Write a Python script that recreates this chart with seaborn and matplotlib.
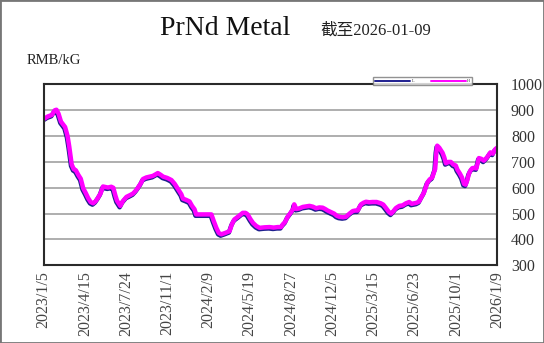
import pandas as pd
import numpy as np
import seaborn as sns
import matplotlib.pyplot as plt
import matplotlib.transforms as mtransforms
from matplotlib.patches import Rectangle

# days since 2023/1/5 and price (RMB/kG)
days = [0, 10, 20, 27, 31, 36, 42, 52, 58, 62, 68, 73, 78, 84, 90, 96, 102, 108, 114, 120,
        126, 132, 138, 144, 150, 156, 164, 169, 174, 178, 186, 192, 201, 210, 217, 224, 229,
        236, 241, 249, 257, 265, 277, 284, 290, 300, 310, 318, 326, 334, 338, 346, 354, 360,
        366, 370, 388, 407, 413, 419, 425, 431, 440, 451, 457, 463, 473, 483, 490, 495, 502,
        508, 516, 524, 536, 548, 558, 568, 576, 580, 586, 592, 600, 606, 608, 613, 620, 629,
        637, 645, 653, 661, 669, 677, 683, 689, 697, 705, 711, 717, 726, 734, 742, 750, 756,
        762, 770, 776, 782, 790, 798, 808, 818, 824, 830, 837, 843, 849, 855, 863, 871, 879,
        887, 893, 899, 905, 911, 917, 923, 928, 931, 937, 943, 947, 950, 953, 955, 960, 964,
        968, 972, 976, 982, 988, 994, 1000, 1004, 1010, 1015, 1020, 1024, 1028, 1032, 1036,
        1040, 1044, 1050, 1056, 1062, 1068, 1076, 1084, 1090, 1095, 1100]
price = [866, 876, 882, 900, 902, 887, 856, 835, 800, 760, 690, 672, 668, 650, 635, 598, 580, 560, 545, 540,
         548, 562, 578, 605, 603, 601, 604, 600, 570, 550, 530, 548, 565, 572, 578, 590, 601,
         618, 634, 640, 643, 646, 657, 650, 643, 638, 630, 615, 595, 575, 558, 553, 547, 530,
         517, 497, 497, 497, 470, 445, 425, 420, 425, 432, 460, 478, 490, 503, 503, 497, 478,
         464, 452, 445, 447, 448, 446, 448, 448, 458, 468, 488, 505, 520, 536, 518, 520, 526,
         528, 530, 527, 521, 524, 523, 518, 512, 506, 500, 492, 488, 486, 488, 500, 510, 512,
         512, 536, 542, 546, 544, 545, 545, 540, 535, 523, 508, 500, 510, 522, 530, 532, 540,
         545, 538, 540, 542, 547, 565, 582, 605, 620, 633, 640, 660, 673, 740, 763, 755, 745,
         735, 718, 695, 700, 700, 690, 686, 670, 655, 640, 615, 612, 630, 655, 668,
         676, 677, 675, 715, 712, 705, 718, 737, 732, 748, 755]

tick_labels = ['2023/1/5', '2023/4/15', '2023/7/24', '2023/11/1', '2024/2/9', '2024/5/19',
               '2024/8/27', '2024/12/5', '2025/3/15', '2025/6/23', '2025/10/1', '2026/1/9']
y_ticks = [300, 400, 500, 600, 700, 800, 900, 1000]

start = pd.Timestamp('2023-01-05')
df = pd.DataFrame({'date': start + pd.to_timedelta(days, unit='D'), 'price': price})
tick_dates = pd.to_datetime(tick_labels, format='%Y/%m/%d')

sns.set_style('white')
plt.rcParams['font.family'] = ['Liberation Serif', 'Noto Sans CJK SC']

fig = plt.figure(figsize=(5.44, 3.43), dpi=100)
ax = fig.add_axes([0.0803, 0.2265, 0.8333, 0.5274])

shadow = mtransforms.offset_copy(ax.transData, fig=fig, x=-0.7, y=-1.4, units='dots')
sns.lineplot(data=df, x='date', y='price', ax=ax, color='#1f1f8f', lw=3.2,
             transform=shadow, label='L', legend=False)
sns.lineplot(data=df, x='date', y='price', ax=ax, color='#ff00ff', lw=3.2,
             label='H', legend=False)

ax.set_xlim(tick_dates[0], tick_dates[-1])
ax.set_ylim(300, 1000)
ax.set_xticks(tick_dates)
ax.set_xticklabels(tick_labels, rotation=90, fontsize=11.5, color='#444444')
ax.set_yticks(y_ticks)
ax.set_yticklabels([str(v) for v in y_ticks], fontsize=11.5, color='#333333')
ax.yaxis.tick_right()
ax.tick_params(axis='x', direction='in', length=4, width=1, color='#333333', pad=4)
ax.tick_params(axis='y', length=0, pad=10)
ax.grid(axis='y', color='#a8a8a8', lw=1.3)
ax.grid(axis='x', visible=False)
ax.set_xlabel('')
ax.set_ylabel('')
for s in ax.spines.values():
    s.set_visible(True)
    s.set_color('#2a2a2a')
    s.set_linewidth(1.5)

handles, labels = ax.get_legend_handles_labels()
leg = fig.legend(handles, labels, ncol=2, fontsize=3, loc='center',
                 bbox_to_anchor=(422.5 / 544, 1 - 81 / 343), handlelength=8.5,
                 handletextpad=0.3, columnspacing=4, borderpad=0.4, frameon=True,
                 fancybox=False, edgecolor='#777777')
for h in leg.legend_handles:
    h.set_linewidth(1.4)

fig.text(225 / 544, 1 - 34.7 / 343, 'PrNd Metal', ha='center', va='baseline',
         fontsize=20, color='#111111')
fig.text(320 / 544, 1 - 34.7 / 343, '截至2026-01-09', ha='left', va='baseline',
         fontsize=12, color='#222222')
fig.text(27 / 544, 1 - 63.5 / 343, 'RMB/kG', ha='left', va='baseline',
         fontsize=10.5, color='#222222')

fig.patches.append(Rectangle((0, 0), 1, 1, transform=fig.transFigure, fill=False,
                             edgecolor='#777777', lw=2))

fig.savefig('out.png', dpi=100)
